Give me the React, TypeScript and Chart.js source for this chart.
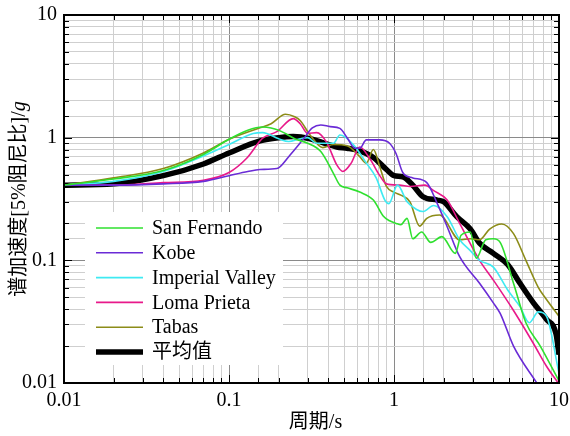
import { useEffect, useRef } from 'react';
import { Chart, registerables } from 'chart.js';

Chart.register(...registerables);

// ---------- data ----------
const legendLabels = ['San Fernando', 'Kobe', 'Imperial Valley', 'Loma Prieta', 'Tabas', '平均值'];
const seriesColors = ['#2fe02f', '#6a2bd6', '#3feaf2', '#e8198a', '#8c8c18', '#000000'];
const seriesWidths = [1.6, 1.6, 1.6, 1.6, 1.6, 5.5];
const tickLabels = ['0.01', '0.1', '1', '10'];

const sanFernandoT = [0.01, 0.02, 0.04, 0.07, 0.1, 0.13, 0.16, 0.18, 0.2, 0.22, 0.25, 0.3, 0.36, 0.43, 0.47, 0.52, 0.62, 0.75, 0.86, 0.94, 1.03, 1.1, 1.2, 1.3, 1.47, 1.67, 1.95, 2.35, 2.55, 2.9, 3.15, 3.6, 4.0, 4.4, 5.3, 6.3, 7.7, 10];
const sanFernandoSa = [0.41, 0.46, 0.54, 0.73, 0.97, 1.15, 1.22, 1.2, 1.15, 1.08, 0.98, 0.9, 0.77, 0.51, 0.41, 0.39, 0.36, 0.31, 0.23, 0.21, 0.2, 0.195, 0.22, 0.15, 0.17, 0.14, 0.156, 0.114, 0.16, 0.17, 0.104, 0.147, 0.15, 0.14, 0.065, 0.031, 0.02, 0.0104];

const kobeT = [0.01, 0.02, 0.04, 0.07, 0.1, 0.13, 0.154, 0.195, 0.23, 0.28, 0.32, 0.36, 0.41, 0.47, 0.52, 0.58, 0.62, 0.68, 0.82, 0.94, 1.03, 1.13, 1.3, 1.58, 1.83, 2.1, 2.5, 3.3, 4.0, 4.4, 5.3, 7.2, 8.5];
const kobeSa = [0.41, 0.41, 0.42, 0.44, 0.49, 0.53, 0.55, 0.56, 0.7, 0.96, 1.2, 1.27, 1.23, 1.19, 1.0, 0.82, 0.82, 0.96, 0.96, 0.9, 0.74, 0.52, 0.47, 0.43, 0.29, 0.188, 0.107, 0.065, 0.045, 0.037, 0.02, 0.0104, 0.0075];

const imperialT = [0.01, 0.02, 0.04, 0.07, 0.1, 0.14, 0.16, 0.2, 0.23, 0.27, 0.3, 0.34, 0.43, 0.47, 0.57, 0.68, 0.78, 0.88, 0.93, 1.05, 1.2, 1.37, 1.5, 1.74, 2.1, 2.5, 2.9, 3.3, 4.0, 4.9, 5.8, 6.6, 7.5, 8.4, 10];
const imperialSa = [0.41, 0.44, 0.53, 0.71, 0.88, 1.08, 1.1, 0.98, 0.93, 0.98, 1.0, 0.9, 0.9, 1.05, 0.87, 0.62, 0.47, 0.31, 0.29, 0.41, 0.3, 0.26, 0.25, 0.28, 0.227, 0.147, 0.12, 0.1, 0.088, 0.057, 0.042, 0.031, 0.038, 0.035, 0.012];

const lomaT = [0.01, 0.02, 0.04, 0.07, 0.1, 0.128, 0.16, 0.195, 0.245, 0.27, 0.3, 0.34, 0.39, 0.45, 0.49, 0.55, 0.62, 0.72, 0.82, 0.9, 1.08, 1.25, 1.54, 1.74, 2.1, 2.5, 3.3, 4.0, 5.3, 7.0, 8.4, 10];
const lomaSa = [0.41, 0.41, 0.43, 0.45, 0.52, 0.68, 0.99, 1.12, 1.43, 1.3, 1.08, 1.1, 0.92, 0.6, 0.53, 0.62, 0.84, 0.66, 0.49, 0.42, 0.41, 0.4, 0.41, 0.37, 0.31, 0.2, 0.1, 0.069, 0.039, 0.021, 0.0137, 0.0098];

const tabasT = [0.01, 0.02, 0.04, 0.07, 0.1, 0.15, 0.18, 0.22, 0.25, 0.27, 0.31, 0.37, 0.43, 0.52, 0.62, 0.68, 0.75, 0.82, 0.9, 1.0, 1.1, 1.25, 1.43, 1.58, 1.89, 2.5, 2.9, 3.3, 3.8, 4.5, 5.3, 6.3, 7.5, 8.4, 10];
const tabasSa = [0.41, 0.47, 0.56, 0.75, 0.97, 1.19, 1.3, 1.55, 1.48, 1.38, 1.05, 0.83, 0.88, 0.86, 0.7, 0.62, 0.8, 0.58, 0.4, 0.36, 0.34, 0.3, 0.19, 0.22, 0.234, 0.147, 0.15, 0.147, 0.18, 0.198, 0.165, 0.1, 0.06, 0.048, 0.035];

const meanT = [0.01, 0.02, 0.04, 0.07, 0.1, 0.154, 0.2, 0.245, 0.31, 0.39, 0.45, 0.52, 0.62, 0.75, 0.9, 1.0, 1.13, 1.3, 1.5, 1.83, 2.0, 2.4, 2.9, 3.3, 4.0, 4.9, 5.8, 7.0, 8.4, 9.6, 10];
const meanSa = [0.41, 0.42, 0.49, 0.61, 0.75, 0.94, 1.0, 1.02, 0.98, 0.89, 0.84, 0.82, 0.78, 0.69, 0.55, 0.49, 0.48, 0.41, 0.33, 0.31, 0.3, 0.227, 0.18, 0.138, 0.114, 0.092, 0.065, 0.045, 0.033, 0.025, 0.017];

const seriesT = [sanFernandoT, kobeT, imperialT, lomaT, tabasT, meanT];
const seriesSa = [sanFernandoSa, kobeSa, imperialSa, lomaSa, tabasSa, meanSa];

// ---------- style ----------
const SERIF = '"Liberation Serif", "Times New Roman", serif';
const MIXED = '"Liberation Serif", "Noto Sans CJK SC", serif';

const isPow10 = (v: number) => {
  const l = Math.log10(v);
  return Math.abs(l - Math.round(l)) < 1e-6;
};
const labelFor = (v: number) => (isPow10(v) ? tickLabels[Math.round(Math.log10(v)) + 2] ?? '' : '');

const framePlugin = {
  id: 'frame',
  beforeDatasetsDraw(chart: any) {
    const { ctx, chartArea: a, scales } = chart;
    ctx.save();
    ctx.strokeStyle = '#000';
    ctx.lineWidth = 1;
    for (const t of scales.x.ticks) {
      const p = Math.round(scales.x.getPixelForValue(t.value)) + 0.5;
      const len = isPow10(t.value) ? 8 : 5;
      ctx.beginPath();
      ctx.moveTo(p, a.bottom);
      ctx.lineTo(p, a.bottom - len);
      ctx.moveTo(p, a.top);
      ctx.lineTo(p, a.top + len);
      ctx.stroke();
    }
    for (const t of scales.y.ticks) {
      const p = Math.round(scales.y.getPixelForValue(t.value)) + 0.5;
      const len = isPow10(t.value) ? 8 : 5;
      ctx.beginPath();
      ctx.moveTo(a.left, p);
      ctx.lineTo(a.left + len, p);
      ctx.moveTo(a.right, p);
      ctx.lineTo(a.right - len, p);
      ctx.stroke();
    }
    ctx.restore();
  },
  afterDatasetsDraw(chart: any) {
    const { ctx, chartArea: a } = chart;
    ctx.save();
    // legend
    const bx = a.left + 21;
    const by = a.bottom - 171;
    const bw = 198;
    const bh = 153;
    ctx.fillStyle = '#fff';
    ctx.fillRect(bx, by, bw, bh);
    chart.data.datasets.forEach((ds: any, i: number) => {
      const y = by + 16 + i * 24.8;
      ctx.strokeStyle = ds.borderColor;
      ctx.lineWidth = ds.borderWidth;
      ctx.lineCap = 'butt';
      ctx.beginPath();
      ctx.moveTo(bx + 11, y);
      ctx.lineTo(bx + 58, y);
      ctx.stroke();
      ctx.fillStyle = '#000';
      ctx.font = `20px ${MIXED}`;
      ctx.textBaseline = 'middle';
      ctx.textAlign = 'left';
      ctx.fillText(ds.label, bx + 67, y + 1);
    });
    // border
    ctx.strokeStyle = '#000';
    ctx.lineWidth = 2;
    ctx.strokeRect(a.left, a.top, a.right - a.left, a.bottom - a.top);
    ctx.restore();
  },
  afterDraw(chart: any) {
    const { ctx, chartArea: a } = chart;
    ctx.save();
    ctx.fillStyle = '#000';
    ctx.textBaseline = 'middle';
    // x title
    ctx.font = `20px ${MIXED}`;
    ctx.textAlign = 'center';
    ctx.fillText('周期/s', (a.left + a.right) / 2 + 4, 423);
    // y title with italic g
    const p1 = '谱加速度[5%阻尼比]/';
    const p2 = 'g';
    ctx.font = `20px ${MIXED}`;
    const w1 = ctx.measureText(p1).width;
    ctx.font = `italic 20px ${SERIF}`;
    const w2 = ctx.measureText(p2).width;
    ctx.translate(20, (a.top + a.bottom) / 2);
    ctx.rotate(-Math.PI / 2);
    ctx.textAlign = 'left';
    const sx = -(w1 + w2) / 2;
    ctx.font = `20px ${MIXED}`;
    ctx.fillText(p1, sx, 0);
    ctx.font = `italic 20px ${SERIF}`;
    ctx.fillText(p2, sx + w1, 0);
    ctx.restore();
  },
};

const gridColor = (c: any) => (isPow10(c.tick.value) ? '#8a8a8a' : '#cfcfcf');

export default function App() {
  const ref = useRef<HTMLCanvasElement | null>(null);
  useEffect(() => {
    if (!ref.current) return;
    const datasets = legendLabels.map((label, i) => ({
      label,
      data: seriesT[i].map((t, k) => ({ x: t, y: seriesSa[i][k] })),
      borderColor: seriesColors[i],
      backgroundColor: seriesColors[i],
      borderWidth: seriesWidths[i],
      pointRadius: 0,
      fill: false,
      cubicInterpolationMode: 'monotone' as const,
      borderJoinStyle: 'round' as const,
    }));
    const chart = new Chart(ref.current, {
      type: 'line',
      data: { datasets },
      options: {
        animation: false,
        responsive: false,
        devicePixelRatio: 1,
        layout: { padding: { top: 15, right: 11, left: 0, bottom: 0 } },
        plugins: { legend: { display: false }, tooltip: { enabled: false } },
        scales: {
          x: {
            type: 'logarithmic',
            min: 0.01,
            max: 10,
            afterFit: (s: any) => {
              s.height = 53;
              s.paddingLeft = 0;
              s.paddingRight = 0;
            },
            grid: { color: gridColor, lineWidth: 1, drawTicks: false },
            border: { display: false },
            ticks: {
              autoSkip: false,
              maxRotation: 0,
              padding: 6,
              color: '#000',
              font: { family: SERIF, size: 20 },
              callback: (v: any) => labelFor(Number(v)),
            },
          },
          y: {
            type: 'logarithmic',
            min: 0.01,
            max: 10,
            afterFit: (s: any) => {
              s.width = 64;
              s.paddingTop = 0;
              s.paddingBottom = 0;
            },
            grid: { color: gridColor, lineWidth: 1, drawTicks: false },
            border: { display: false },
            ticks: {
              autoSkip: false,
              padding: 7,
              color: '#000',
              font: { family: SERIF, size: 20 },
              callback: (v: any) => labelFor(Number(v)),
            },
          },
        },
      },
      plugins: [framePlugin],
    });
    return () => chart.destroy();
  }, []);
  return (
    <div style={{ position: 'absolute', left: 0, top: 0, width: 570, height: 436, background: '#fff' }}>
      <canvas ref={ref} width={570} height={436} />
    </div>
  );
}
